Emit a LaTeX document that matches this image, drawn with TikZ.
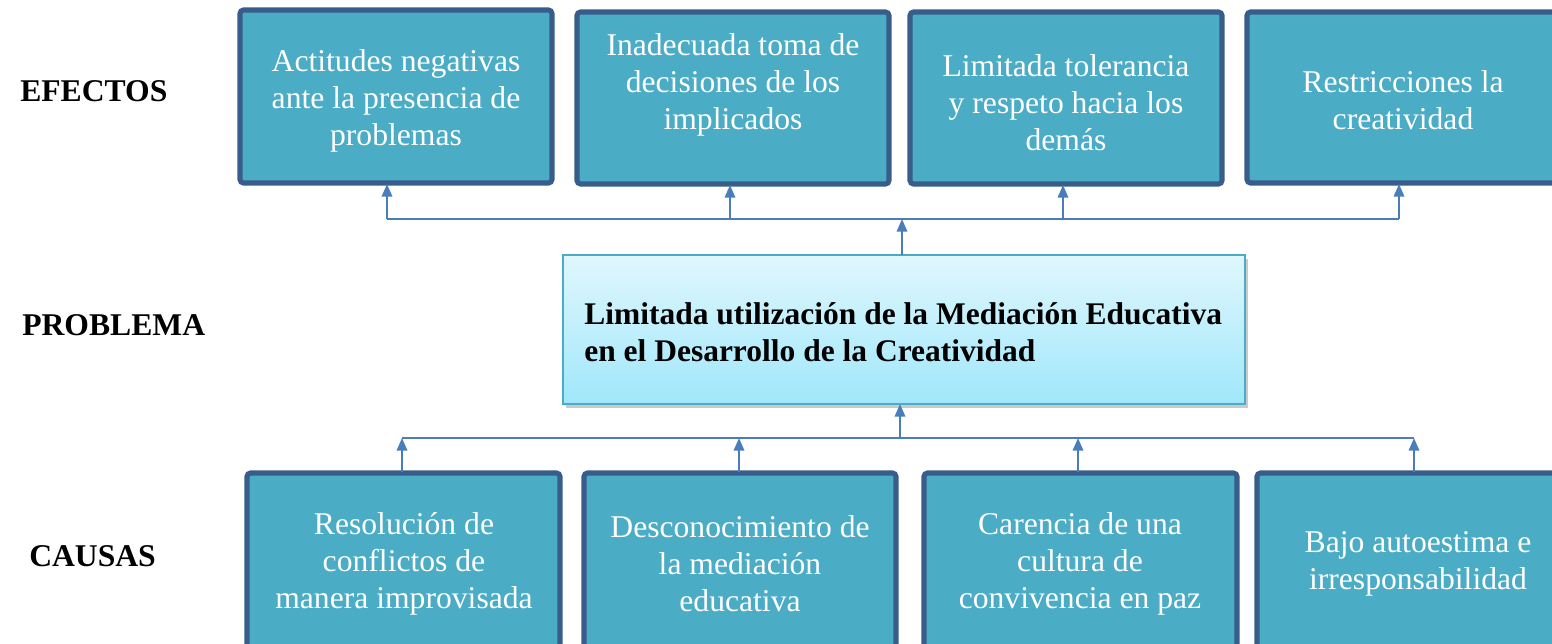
\documentclass[tikz,border=0pt]{standalone}
\usepackage{fontspec}
\setmainfont{Liberation Serif}
\usetikzlibrary{shadows,arrows.meta}
\definecolor{boxfill}{HTML}{4BACC6}
\definecolor{boxline}{HTML}{385D8A}
\definecolor{conn}{HTML}{4A7EBB}
\definecolor{ctop}{HTML}{E0F7FD}
\definecolor{cbot}{HTML}{A0E7FB}
\definecolor{cline}{HTML}{4BACC6}
\tikzset{
  causebox/.style={draw=boxline, line width=3.6pt, fill=boxfill, rounded corners=2.5pt,
    text=white, align=center, inner sep=0pt,
    font=\fontsize{22.5}{26.2}\selectfont},
  probbox/.style={draw=cline, line width=1.4pt, top color=ctop, bottom color=cbot,
    drop shadow={shadow xshift=2pt, shadow yshift=-3pt, opacity=0.35, fill=black!60}},
  rowlabel/.style={font=\fontsize{22.5}{26}\selectfont\bfseries, anchor=west, inner sep=0pt},
  conn/.style={draw=conn, line width=1.2pt},
  connarrow/.style={conn, -{Triangle[length=9pt,width=7.5pt]}}
}
\begin{document}
\begin{tikzpicture}[x=0.025cm,y=-0.025cm]
\useasboundingbox (0,0) rectangle (1552,644);
\clip (0,0) rectangle (1552,644);
% row labels
\node[rowlabel] (lef) at (20,91) {EFECTOS};
\node[rowlabel] (lpr) at (22,325) {PROBLEMA};
\node[rowlabel] (lca) at (29,556) {CAUSAS};
% effect boxes
\path[causebox] (240,10) rectangle (552,183);
\node[causebox, draw=none, fill=none] (e1) at (396,101) {Actitudes negativas\\ante la presencia de\\problemas};
\path[causebox] (577,12) rectangle (889,184);
\node[causebox, draw=none, fill=none] (e2) at (733,85) {Inadecuada toma de\\decisiones de los\\implicados};
\path[causebox] (910,12) rectangle (1222,184);
\node[causebox, draw=none, fill=none] (e3) at (1066,103) {Limitada tolerancia\\y respeto hacia los\\demás};
\path[causebox] (1247,12) rectangle (1562,183);
\node[causebox, draw=none, fill=none] (e4) at (1403,100) {Restricciones la\\creatividad};
% problem box
\path[probbox] (563,255) rectangle (1245,404);
\node[align=left, anchor=west, inner sep=0pt, font=\fontsize{22.4}{26}\selectfont\bfseries] (p) at (584,332)
  {Limitada utilización de la Mediación Educativa\\en el Desarrollo de la Creatividad};
% cause boxes
\path[causebox] (247,473) rectangle (560,655);
\node[causebox, draw=none, fill=none] (c1) at (404,564) {Resolución de\\conflictos de\\manera improvisada};
\path[causebox] (584,473) rectangle (896,655);
\node[causebox, draw=none, fill=none] (c2) at (740,564) {Desconocimiento de\\la mediación\\educativa};
\path[causebox] (924,473) rectangle (1237,655);
\node[causebox, draw=none, fill=none] (c3) at (1080,564) {Carencia de una\\cultura de\\convivencia en paz};
\path[causebox] (1257,473) rectangle (1572,655);
\node[causebox, draw=none, fill=none] (c4) at (1418,564) {Bajo autoestima e\\irresponsabilidad};
% coordinates for connectors
\coordinate (pt) at (902,255);
\coordinate (pb) at (900,404);
\coordinate (tb) at (902,219);
\coordinate (bb) at (900,438);
\coordinate (t1) at (387,219); \coordinate (t1e) at (387,184);
\coordinate (t2) at (730,219); \coordinate (t2e) at (730,185);
\coordinate (t3) at (1063,219); \coordinate (t3e) at (1063,185);
\coordinate (t4) at (1399,219); \coordinate (t4e) at (1399,184);
\coordinate (b1) at (402,438); \coordinate (b1s) at (402,472);
\coordinate (b2) at (739,438); \coordinate (b2s) at (739,472);
\coordinate (b3) at (1078,438); \coordinate (b3s) at (1078,472);
\coordinate (b4) at (1414,438); \coordinate (b4s) at (1414,472);
% top connectors
\draw[conn] (t1) -- (t4);
\draw[connarrow] (pt) -- (tb);
\draw[connarrow] (t1) -- (t1e);
\draw[connarrow] (t2) -- (t2e);
\draw[connarrow] (t3) -- (t3e);
\draw[connarrow] (t4) -- (t4e);
% bottom connectors
\draw[conn] (b1) -- (b4);
\draw[connarrow] (bb) -- (pb);
\draw[connarrow] (b1s) -- (b1);
\draw[connarrow] (b2s) -- (b2);
\draw[connarrow] (b3s) -- (b3);
\draw[connarrow] (b4s) -- (b4);
\end{tikzpicture}
\end{document}
